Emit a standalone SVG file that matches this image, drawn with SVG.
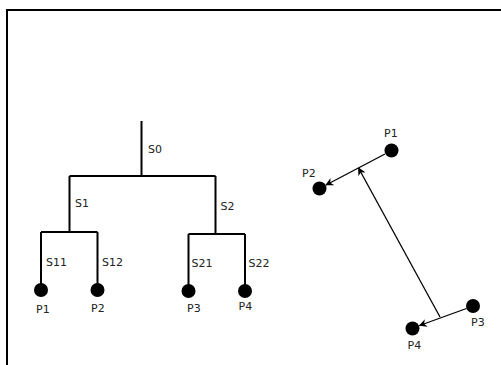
<svg xmlns="http://www.w3.org/2000/svg" width="501" height="365" viewBox="0 0 501 365">
  <style>
    .frame { fill: none; stroke: #000; stroke-width: 2; }
    .branch { fill: none; stroke: #000; stroke-width: 2; }
    .link { fill: none; stroke: #000; stroke-width: 1.3; }
    .pt { fill: #000; }
    text { font-family: "DejaVu Sans", sans-serif; font-size: 11px; fill: #222; }
  </style>
  <defs>
    <marker id="head" viewBox="0 0 10 10" refX="9" refY="5" markerWidth="8" markerHeight="8" markerUnits="userSpaceOnUse" orient="auto">
      <path d="M0,0 L10,5 L0,10 L3,5 Z" fill="#000"/>
    </marker>
  </defs>

  <rect class="frame" x="7" y="10" width="500" height="370"/>

  <!-- hierarchy tree -->
  <g id="tree-connectors">
    <path class="branch" d="M141.5,121 V176 M69.5,176 H215.5 M69.5,176 V232 M215.5,176 V234"/>
    <path class="branch" d="M41,232 H97.5 M41,232 V290 M97.5,232 V290"/>
    <path class="branch" d="M188.5,234 H245 M188.5,234 V291 M245,234 V291"/>
  </g>
  <g id="tree-labels">
    <text x="148" y="153">S0</text>
    <text x="75" y="207">S1</text>
    <text x="220.5" y="210">S2</text>
    <text x="46" y="266">S11</text>
    <text x="102" y="265.5">S12</text>
    <text x="191.5" y="267">S21</text>
    <text x="248.5" y="267">S22</text>
  </g>
  <g id="tree-P1"><circle class="pt" cx="41" cy="290" r="7"/><text x="36" y="313">P1</text></g>
  <g id="tree-P2"><circle class="pt" cx="97.5" cy="290" r="7"/><text x="91" y="312">P2</text></g>
  <g id="tree-P3"><circle class="pt" cx="188.5" cy="291" r="7"/><text x="187" y="312">P3</text></g>
  <g id="tree-P4"><circle class="pt" cx="245" cy="291" r="7"/><text x="238.5" y="310">P4</text></g>

  <!-- point layout -->
  <g id="P1"><circle class="pt" cx="391.5" cy="150.5" r="7"/><text x="384" y="137">P1</text></g>
  <g id="P2"><circle class="pt" cx="319.5" cy="188.5" r="7"/><text x="302" y="177">P2</text></g>
  <g id="P3"><circle class="pt" cx="473" cy="306" r="7"/><text x="471" y="326">P3</text></g>
  <g id="P4"><circle class="pt" cx="412.5" cy="328.5" r="7"/><text x="407.5" y="349">P4</text></g>

  <g id="connectors">
    <line class="link" x1="385" y1="154" x2="326" y2="185" marker-end="url(#head)"/>
    <line class="link" x1="440" y1="317" x2="358.5" y2="168" marker-end="url(#head)"/>
    <line class="link" x1="466.5" y1="308.5" x2="419.5" y2="325.5" marker-end="url(#head)"/>
  </g>
</svg>
